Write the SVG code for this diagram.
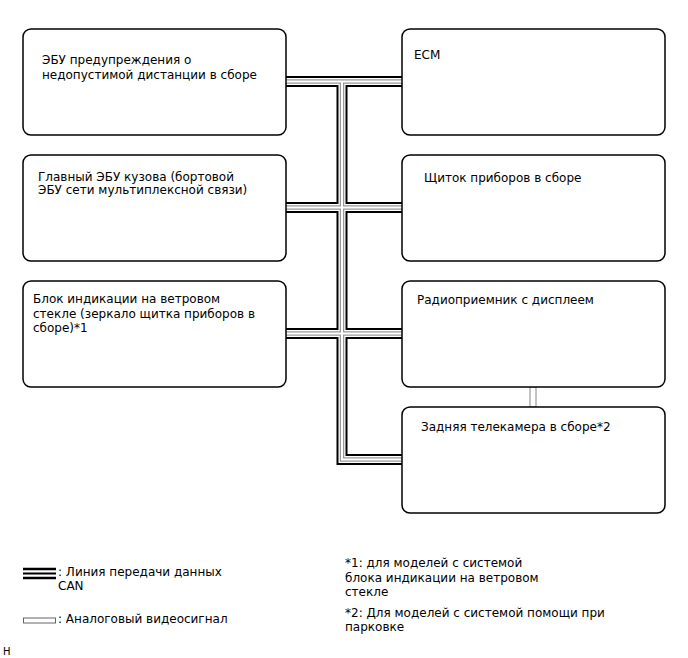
<svg xmlns="http://www.w3.org/2000/svg" width="688" height="658" viewBox="0 0 688 658">
<style>
.box{fill:#fff;stroke:#000;stroke-width:1.5}
text{font-family:"DejaVu Sans","Noto Sans",sans-serif;font-size:12px;fill:#000}
.l1{fill:none;stroke:#000;stroke-width:11;stroke-linejoin:miter}
.l2{fill:none;stroke:#fff;stroke-width:7;stroke-linejoin:miter}
.l3{fill:none;stroke:#999;stroke-width:4.5;stroke-linejoin:miter}
.l4{fill:none;stroke:#fff;stroke-width:2;stroke-linejoin:miter}
</style>
<rect width="688" height="658" fill="#fff"/>
<g id="connectors">
<g id="can">
<path class="l1" d="M286 81.5H402M342 81.5V459.5H402M286 207.5H402M286 333.5H402"/>
<path class="l2" d="M286 81.5H402M342 81.5V459.5H402M286 207.5H402M286 333.5H402"/>
<path class="l3" d="M286 81.5H402M342 81.5V459.5H402M286 207.5H402M286 333.5H402"/>
<path class="l4" d="M286 81.5H402M342 81.5V459.5H402M286 207.5H402M286 333.5H402"/>
</g>
<rect id="video" x="530" y="387" width="6" height="20" fill="#fff" stroke="#888" stroke-width="1"/>
</g>
<g id="n1"><rect class="box" x="23" y="29" width="263" height="106" rx="8"/>
<text x="42" y="64">ЭБУ предупреждения о</text><text x="42" y="79">недопустимой дистанции в сборе</text></g>
<g id="n2"><rect class="box" x="23" y="155" width="263" height="106" rx="8"/>
<text x="38" y="181">Главный ЭБУ кузова (бортовой</text><text x="38" y="194">ЭБУ сети мультиплексной связи)</text></g>
<g id="n3"><rect class="box" x="23" y="281" width="263" height="106" rx="8"/>
<text x="33" y="303">Блок индикации на ветровом</text><text x="33" y="318">стекле (зеркало щитка приборов в</text><text x="33" y="332">сборе)*1</text></g>
<g id="n4"><rect class="box" x="402" y="29" width="263" height="106" rx="8"/>
<text x="414" y="59">ECM</text></g>
<g id="n5"><rect class="box" x="402" y="155" width="263" height="106" rx="8"/>
<text x="424" y="182">Щиток приборов в сборе</text></g>
<g id="n6"><rect class="box" x="402" y="281" width="263" height="106" rx="8"/>
<text x="417" y="304">Радиоприемник с дисплеем</text></g>
<g id="n7"><rect class="box" x="402" y="407" width="263" height="106" rx="8"/>
<text x="421" y="431">Задняя телекамера в сборе*2</text></g>
<g id="legend">
<line x1="23" y1="569" x2="56" y2="569" stroke="#000" stroke-width="2.5"/>
<line x1="23" y1="573.5" x2="56" y2="573.5" stroke="#000" stroke-width="2"/>
<line x1="23" y1="578" x2="56" y2="578" stroke="#000" stroke-width="2.5"/>
<text x="58" y="576">: Линия передачи данных</text><text x="58" y="590">CAN</text>
<rect x="23.5" y="618" width="32" height="5" fill="#fff" stroke="#666" stroke-width="1"/>
<text x="58" y="623">: Аналоговый видеосигнал</text>
<text x="345" y="567">*1: для моделей с системой</text>
<text x="345" y="582">блока индикации на ветровом</text>
<text x="345" y="596">стекле</text>
<text x="345" y="617">*2: Для моделей с системой помощи при</text>
<text x="345" y="631">парковке</text>
<text x="3" y="655" style="font-size:10px">H</text>
</g>
</svg>
